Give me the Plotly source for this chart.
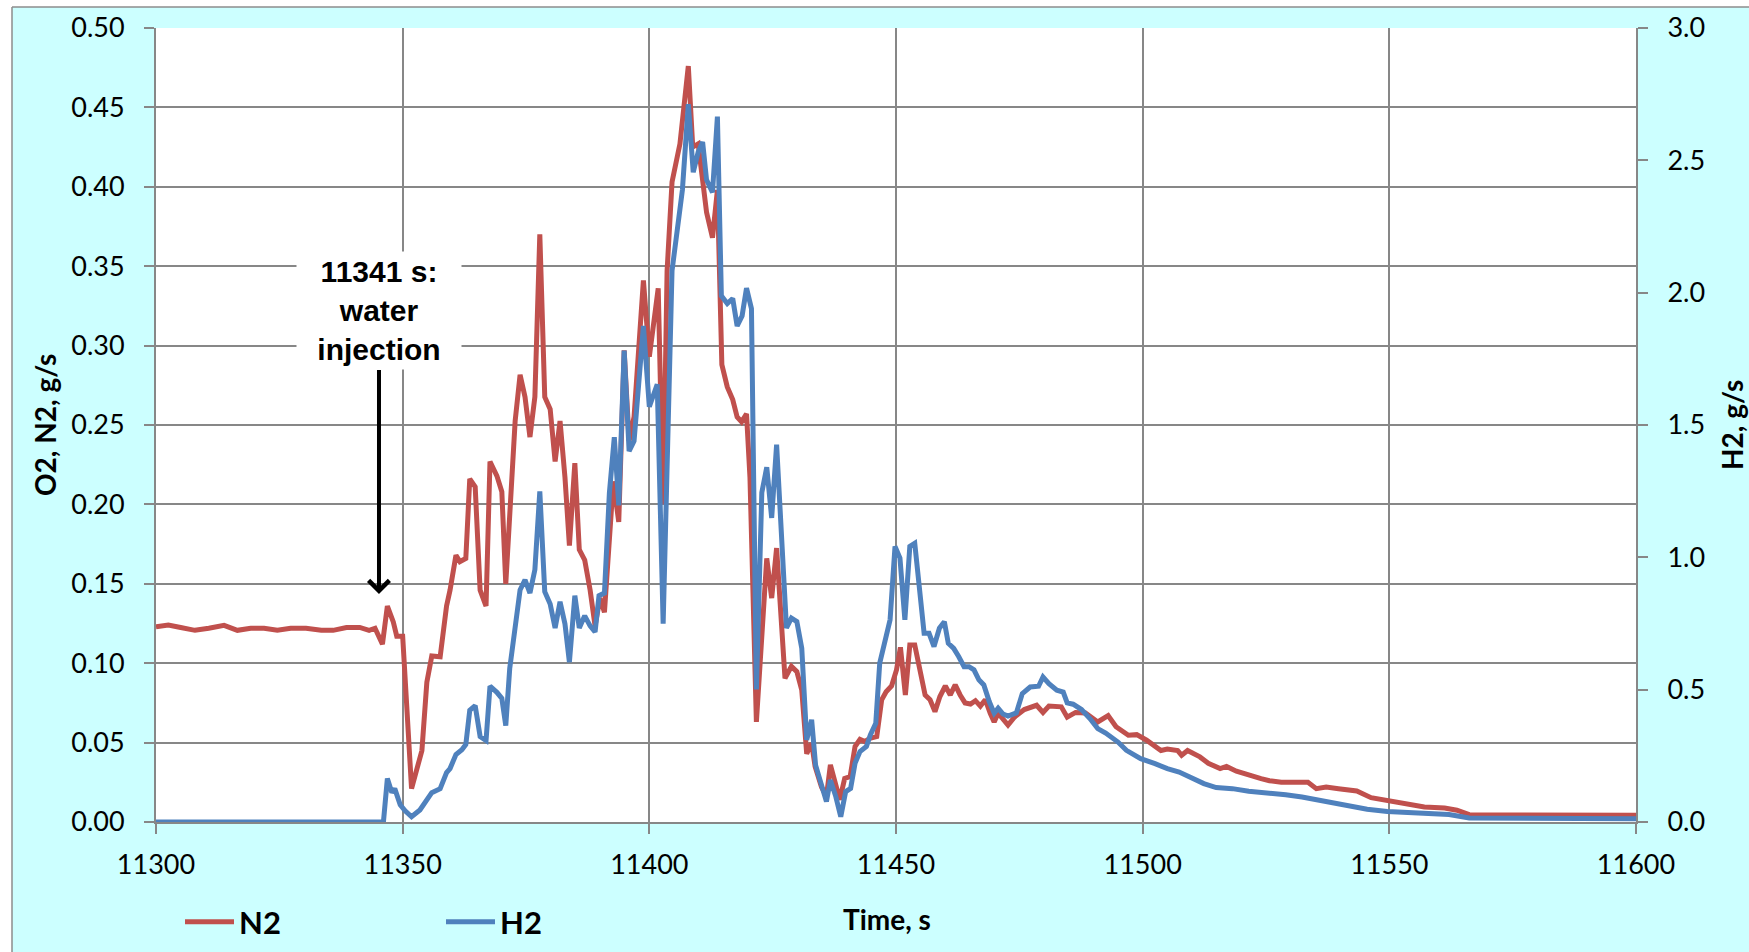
import plotly.graph_objects as go

# ---------------- data ----------------
n2_time = [11300.0, 11302.5, 11305.0, 11307.9, 11310.7, 11313.8, 11316.5, 11319.2, 11321.9, 11324.6,
           11327.3, 11330.4, 11333.5, 11335.9, 11338.6, 11341.3, 11343.2, 11344.4, 11345.9, 11346.9,
           11348.1, 11348.8, 11350.0, 11351.8, 11353.9, 11354.9, 11355.9, 11357.6, 11358.9, 11359.6,
           11360.8, 11361.6, 11362.8, 11363.6, 11364.7, 11365.7, 11366.9, 11367.7, 11369.1, 11370.1,
           11370.9, 11372.8, 11373.8, 11374.8, 11375.8, 11376.8, 11377.8, 11378.8, 11379.9, 11380.9,
           11381.9, 11382.9, 11383.8, 11384.9, 11385.8, 11386.9, 11388.0, 11389.0, 11390.0, 11390.9,
           11392.7, 11393.8, 11394.9, 11395.9, 11396.9, 11397.9, 11398.8, 11400.0, 11401.8, 11402.8,
           11403.6, 11404.6, 11406.2, 11407.9, 11408.8, 11409.9, 11411.6, 11412.8, 11413.8, 11414.7,
           11415.8, 11416.9, 11417.8, 11418.7, 11419.7, 11420.4, 11421.7, 11423.8, 11424.8, 11425.8,
           11427.5, 11428.8, 11429.9, 11430.9, 11431.9, 11432.9, 11433.6, 11434.9, 11435.9, 11436.7,
           11437.6, 11438.6, 11439.6, 11440.7, 11441.7, 11442.7, 11443.7, 11444.7, 11446.1, 11447.1,
           11448.0, 11449.1, 11450.1, 11450.9, 11451.9, 11452.8, 11453.8, 11454.8, 11455.9, 11456.9,
           11457.9, 11458.9, 11460.0, 11461.0, 11462.0, 11463.0, 11464.0, 11465.1, 11466.1, 11467.1,
           11468.1, 11469.1, 11469.9, 11470.7, 11471.7, 11472.7, 11474.0, 11476.0, 11478.5, 11479.8,
           11481.0, 11483.5, 11484.7, 11486.4, 11488.4, 11490.9, 11493.0, 11494.6, 11497.1, 11498.8,
           11500.8, 11503.7, 11505.0, 11507.1, 11507.9, 11509.1, 11511.6, 11513.3, 11515.7, 11517.0,
           11519.0, 11521.5, 11524.0, 11525.7, 11528.1, 11530.6, 11533.5, 11535.2, 11537.2, 11539.7,
           11543.4, 11546.3, 11549.6, 11551.7, 11553.8, 11557.1, 11561.2, 11563.7, 11566.2, 11575.0,
           11585.0, 11600.0]
n2_flow = [0.123, 0.124, 0.1225, 0.1207, 0.122, 0.1238, 0.1207, 0.122, 0.122, 0.1207,
           0.122, 0.122, 0.1207, 0.1207, 0.1225, 0.1225, 0.1207, 0.122, 0.112, 0.136,
           0.126, 0.117, 0.117, 0.021, 0.045, 0.088, 0.1045, 0.104, 0.136, 0.146,
           0.168, 0.164, 0.166, 0.216, 0.211, 0.146, 0.136, 0.227, 0.218, 0.208,
           0.150, 0.2525, 0.2816, 0.2677, 0.2424, 0.2677, 0.370, 0.2677, 0.260, 0.227,
           0.2525, 0.217, 0.174, 0.226, 0.1715, 0.165, 0.146, 0.1235, 0.141, 0.132,
           0.2145, 0.189, 0.297, 0.240, 0.255, 0.300, 0.341, 0.293, 0.336, 0.200,
           0.347, 0.403, 0.427, 0.476, 0.425, 0.427, 0.384, 0.368, 0.398, 0.288,
           0.274, 0.266, 0.255, 0.252, 0.257, 0.217, 0.063, 0.166, 0.141, 0.1725,
           0.0905, 0.098, 0.0947, 0.083, 0.043, 0.0496, 0.035, 0.022, 0.016, 0.036,
           0.026, 0.014, 0.0275, 0.0286, 0.0475, 0.052, 0.0506, 0.0527, 0.0538, 0.077,
           0.082, 0.0857, 0.0958, 0.110, 0.080, 0.1115, 0.1115, 0.0947, 0.080, 0.077,
           0.0695, 0.079, 0.0857, 0.080, 0.0863, 0.080, 0.075, 0.0743, 0.0764, 0.073,
           0.077, 0.0685, 0.063, 0.0685, 0.065, 0.061, 0.066, 0.0708, 0.0735, 0.069,
           0.073, 0.0725, 0.066, 0.069, 0.0687, 0.063, 0.067, 0.060, 0.0546, 0.055,
           0.0515, 0.045, 0.046, 0.045, 0.042, 0.045, 0.041, 0.037, 0.0336, 0.035,
           0.032, 0.0294, 0.0273, 0.026, 0.025, 0.025, 0.025, 0.021, 0.022, 0.021,
           0.0195, 0.0153, 0.0137, 0.0126, 0.011, 0.0095, 0.0088, 0.0074, 0.0046, 0.0046,
           0.0044, 0.0042]

h2_time = [11300.0, 11346.1, 11346.9, 11347.8, 11348.4, 11349.5, 11350.5, 11351.8, 11353.5, 11354.9,
           11355.9, 11357.6, 11358.9, 11359.6, 11360.8, 11362.0, 11362.8, 11363.6, 11364.7, 11365.7,
           11366.9, 11367.7, 11369.1, 11370.1, 11370.9, 11371.7, 11372.8, 11373.8, 11374.8, 11375.8,
           11376.8, 11377.8, 11378.8, 11379.9, 11380.9, 11381.9, 11382.9, 11383.8, 11384.9, 11385.8,
           11386.9, 11388.0, 11389.0, 11389.8, 11390.9, 11391.9, 11392.9, 11393.8, 11394.9, 11395.9,
           11396.9, 11398.8, 11400.0, 11401.6, 11402.8, 11404.0, 11404.6, 11406.7, 11407.9, 11408.9,
           11409.9, 11410.8, 11411.6, 11412.8, 11413.8, 11414.6, 11415.8, 11416.9, 11417.8, 11418.8,
           11419.7, 11420.7, 11421.7, 11422.8, 11423.8, 11424.8, 11425.8, 11427.8, 11428.8, 11429.9,
           11430.9, 11431.9, 11432.9, 11433.7, 11434.9, 11435.9, 11436.7, 11437.8, 11438.8, 11439.8,
           11440.8, 11441.7, 11442.7, 11444.0, 11444.8, 11445.9, 11446.7, 11447.7, 11448.8, 11449.8,
           11450.8, 11451.8, 11452.8, 11453.8, 11454.8, 11455.7, 11456.7, 11457.7, 11458.8, 11459.8,
           11460.6, 11461.7, 11462.7, 11463.8, 11464.8, 11465.8, 11466.8, 11467.8, 11468.9, 11469.9,
           11470.7, 11471.7, 11472.7, 11474.4, 11475.6, 11477.2, 11478.9, 11479.8, 11481.0, 11482.6,
           11483.9, 11484.7, 11485.9, 11487.6, 11489.3, 11490.9, 11492.5, 11495.0, 11496.7, 11499.6,
           11502.5, 11505.0, 11507.4, 11509.9, 11512.4, 11514.9, 11518.2, 11521.5, 11524.8, 11529.0,
           11532.3, 11535.6, 11538.9, 11542.2, 11545.5, 11549.6, 11553.8, 11557.9, 11562.1, 11566.2,
           11600.0]
h2_flow = [0.0, 0.0, 0.164, 0.111, 0.126, 0.065, 0.0425, 0.02, 0.0455, 0.088,
           0.111, 0.126, 0.187, 0.202, 0.255, 0.273, 0.293, 0.422, 0.440, 0.323,
           0.308, 0.513, 0.490, 0.467, 0.364, 0.580, 0.726, 0.877, 0.915, 0.865,
           0.953, 1.249, 0.870, 0.824, 0.733, 0.832, 0.748, 0.604, 0.855, 0.733,
           0.779, 0.741, 0.718, 0.855, 0.865, 1.242, 1.454, 1.196, 1.781, 1.401,
           1.439, 1.874, 1.569, 1.654, 0.749, 1.740, 2.083, 2.388, 2.712, 2.455,
           2.531, 2.569, 2.426, 2.379, 2.665, 1.988, 1.959, 1.978, 1.874, 1.912,
           2.017, 1.940, 0.501, 1.245, 1.340, 1.149, 1.426, 0.733, 0.770, 0.757,
           0.656, 0.310, 0.386, 0.215, 0.1336, 0.077, 0.159, 0.096, 0.020, 0.115,
           0.127, 0.222, 0.266, 0.285, 0.329, 0.373, 0.600, 0.675, 0.764, 1.041,
           0.997, 0.764, 1.041, 1.053, 0.883, 0.713, 0.713, 0.663, 0.732, 0.757,
           0.675, 0.656, 0.625, 0.587, 0.587, 0.575, 0.537, 0.518, 0.455, 0.411,
           0.430, 0.408, 0.400, 0.412, 0.485, 0.510, 0.513, 0.548, 0.523, 0.498,
           0.491, 0.450, 0.445, 0.425, 0.391, 0.353, 0.336, 0.302, 0.271, 0.239,
           0.2205, 0.2016, 0.189, 0.168, 0.145, 0.130, 0.126, 0.116, 0.111, 0.103,
           0.0945, 0.082, 0.069, 0.057, 0.048, 0.040, 0.035, 0.0315, 0.028, 0.015,
           0.0126]

x_ticks = [11300, 11350, 11400, 11450, 11500, 11550, 11600]
y1_ticks = [0.00, 0.05, 0.10, 0.15, 0.20, 0.25, 0.30, 0.35, 0.40, 0.45, 0.50]
y2_ticks = [0.0, 0.5, 1.0, 1.5, 2.0, 2.5, 3.0]

event_time = 11345.2
event_level = 0.1436
event_text = "11341 s:<br>water<br>injection"

# ---------------- styling ----------------
RED = "#C0504D"
BLUE = "#4F81BD"
GRID = "#878787"
CYAN = "#CCFFFF"
TICKFONT = dict(family="Lato", size=27, color="black")

W, H = 1749, 952
L, R, T, B = 156, 113, 28, 130
PW, PH = W - L - R, H - T - B


def px_x(px):
    return (px - L) / PW


def px_y(py):
    return (H - B - py) / PH


fig = go.Figure()
fig.add_trace(go.Scatter(x=n2_time, y=n2_flow, name="<b>N2</b>", mode="lines",
                         line=dict(color=RED, width=5), yaxis="y"))
fig.add_trace(go.Scatter(x=h2_time, y=h2_flow, name="<b>H2</b>", mode="lines",
                         line=dict(color=BLUE, width=5), yaxis="y2"))

fig.update_layout(
    width=W, height=H,
    margin=dict(l=L, r=R, t=T, b=B, pad=0, autoexpand=False),
    paper_bgcolor=CYAN, plot_bgcolor="white",
    showlegend=True,
    legend=dict(orientation="h", x=px_x(180), y=px_y(922), xanchor="left", yanchor="middle",
                font=dict(family="Lato", size=31, color="black"),
                bgcolor="rgba(0,0,0,0)", itemwidth=49, entrywidth=197, traceorder="normal"),
    xaxis=dict(range=[11300, 11600], tickvals=x_ticks, tickformat="d", showgrid=True,
               gridcolor=GRID, gridwidth=2,
               showline=True, linecolor=GRID, linewidth=2, ticks="outside", ticklen=10,
               tickcolor=GRID, tickwidth=2, tickfont=TICKFONT, zeroline=False,
               ticklabelstandoff=8),
    yaxis=dict(range=[0, 0.5], tickvals=y1_ticks, tickformat=".2f", showgrid=True, gridcolor=GRID,
               gridwidth=2, showline=True, linecolor=GRID, linewidth=2, ticks="outside", ticklen=10,
               tickcolor=GRID, tickwidth=2, tickfont=TICKFONT, zeroline=False,
               ticklabelstandoff=14),
    yaxis2=dict(range=[0, 3.0], tickvals=y2_ticks, tickformat=".1f", overlaying="y", side="right",
                showgrid=False, showline=True, linecolor=GRID, linewidth=2, ticks="outside",
                ticklen=10, tickcolor=GRID, tickwidth=2, tickfont=TICKFONT, zeroline=False,
                ticklabelstandoff=14),
)

title_font = dict(family="Lato", size=28, color="black")
fig.add_annotation(text="<b>O2, N2, g/s</b>", xref="paper", yref="paper", x=px_x(45), y=0.5,
                   textangle=-90, showarrow=False, font=title_font, xanchor="center", yanchor="middle")
fig.add_annotation(text="<b>H2, g/s</b>", xref="paper", yref="paper", x=px_x(1732), y=0.5,
                   textangle=-90, showarrow=False, font=title_font, xanchor="center", yanchor="middle")
fig.add_annotation(text="<b>Time, s</b>", xref="paper", yref="paper", x=px_x(887), y=px_y(919),
                   showarrow=False, font=title_font, xanchor="center", yanchor="middle")

fig.add_annotation(text="<b>" + event_text + "</b>", x=event_time, y=event_level, xref="x", yref="y",
                   ax=0, ay=-283, showarrow=True, arrowhead=4, arrowwidth=4, arrowsize=1,
                   arrowcolor="black", bgcolor="white", borderpad=3, width=158, height=111,
                   font=dict(family="Liberation Sans", size=30, color="black"))

# chart-area frame (Excel chart border), top-left corner visible
fx0, fy0 = px_x(12), px_y(7)
fig.add_shape(type="rect", xref="paper", yref="paper", x0=px_x(0), x1=fx0, y0=px_y(H), y1=px_y(0),
              fillcolor="white", line=dict(width=0), layer="above")
fig.add_shape(type="rect", xref="paper", yref="paper", x0=px_x(0), x1=px_x(W), y0=fy0, y1=px_y(0),
              fillcolor="white", line=dict(width=0), layer="above")
fig.add_shape(type="line", xref="paper", yref="paper", x0=fx0, x1=fx0, y0=px_y(H), y1=fy0,
              line=dict(color="#8C8C8C", width=1.5), layer="above")
fig.add_shape(type="line", xref="paper", yref="paper", x0=fx0, x1=px_x(W), y0=fy0, y1=fy0,
              line=dict(color="#8C8C8C", width=1.5), layer="above")

fig.write_html("out.html", config={"displayModeBar": False},
               post_script="document.body.style.margin='0px';")
